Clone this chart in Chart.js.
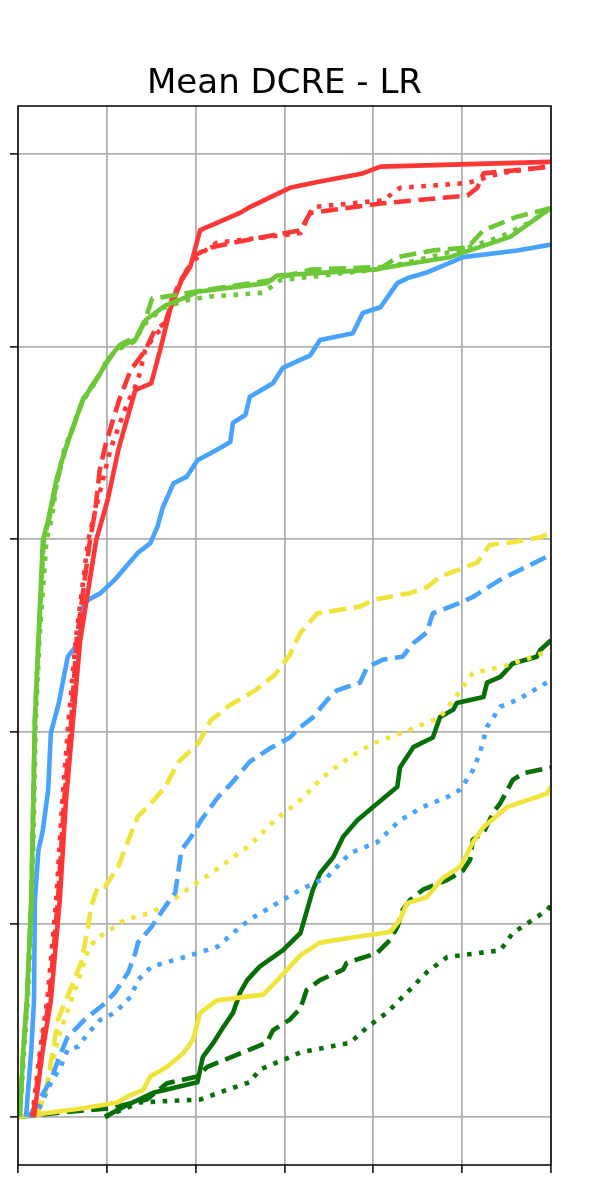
<!DOCTYPE html>
<html>
<head>
<meta charset="utf-8">
<script src="https://cdn.jsdelivr.net/npm/chart.js@4.4.1/dist/chart.umd.min.js"></script>
<style>
  body { margin: 0; background: #fff; }
  canvas { display: block; }
</style>
</head>
<body>
<canvas id="myChart" width="598" height="1181"></canvas>
<script>
const chartTitle = 'Mean DCRE - LR';
const xTicks = [0, 1, 2, 3, 4, 5, 6];
const yTicks = [0, 0.2, 0.4, 0.6, 0.8, 1.0];

// light green
const limeSolidX = [0.02,0.06,0.10,0.15,0.19,0.23,0.28,0.34,0.43,0.53,0.73,0.88,1.01,1.13,1.32,1.44,1.66,1.88,2.02,2.80,2.92,4.00,4.33,4.86,5.54,6.00];
const limeSolidY = [0,0.070,0.121,0.225,0.412,0.495,0.599,0.620,0.661,0.693,0.745,0.765,0.786,0.800,0.807,0.828,0.843,0.851,0.857,0.866,0.874,0.880,0.885,0.893,0.914,0.944];
const limeDashX = [0.02,0.06,0.10,0.15,0.19,0.23,0.29,0.36,0.45,0.54,0.74,0.90,1.04,1.15,1.34,1.44,1.51,1.66,2.05,2.84,3.29,4.11,4.27,4.67,5.06,5.24,5.62,6.00];
const limeDashY = [0,0.070,0.121,0.225,0.412,0.495,0.599,0.625,0.664,0.695,0.747,0.769,0.789,0.802,0.811,0.830,0.850,0.852,0.858,0.869,0.880,0.883,0.893,0.900,0.903,0.921,0.935,0.944];
const limeDotX = [0.02,0.07,0.11,0.16,0.20,0.24,0.32,0.38,0.44,0.52,0.72,0.87,0.99,1.10,1.30,1.45,1.63,1.88,2.16,2.76,2.95,4.02,4.41,5.03,5.43,5.76,6.00];
const limeDotY = [0,0.070,0.121,0.225,0.412,0.495,0.599,0.622,0.661,0.693,0.742,0.763,0.784,0.796,0.805,0.826,0.840,0.848,0.852,0.856,0.869,0.880,0.888,0.902,0.914,0.929,0.944];

// red
const redSolidX = [0.18,0.28,0.37,0.47,0.54,0.62,0.70,0.88,1.01,1.13,1.32,1.50,1.61,1.71,1.84,1.94,2.05,2.50,2.61,3.06,3.37,3.88,4.08,6.00];
const redSolidY = [0,0.070,0.121,0.225,0.329,0.412,0.495,0.599,0.641,0.693,0.755,0.762,0.800,0.838,0.869,0.883,0.921,0.939,0.945,0.965,0.971,0.980,0.987,0.992];
const redDashX = [0.17,0.26,0.35,0.45,0.52,0.60,0.66,0.81,0.87,0.92,0.99,1.14,1.27,1.43,1.54,1.66,1.73,1.85,1.99,2.17,2.42,3.18,3.29,4.11,5.06,5.17,5.24,6.00];
const redDashY = [0,0.070,0.121,0.225,0.329,0.412,0.495,0.599,0.630,0.672,0.700,0.745,0.776,0.796,0.817,0.825,0.848,0.871,0.895,0.903,0.908,0.921,0.939,0.949,0.957,0.965,0.980,0.987];
const redDotX = [0.16,0.25,0.33,0.43,0.50,0.57,0.65,0.79,0.90,1.04,1.20,1.35,1.43,1.54,1.66,1.73,1.82,1.96,2.11,2.24,3.18,3.32,4.11,4.30,5.06,5.24,5.43,6.00];
const redDotY = [0,0.070,0.121,0.225,0.329,0.412,0.495,0.599,0.641,0.693,0.734,0.765,0.796,0.812,0.822,0.848,0.867,0.888,0.900,0.908,0.918,0.945,0.952,0.965,0.970,0.975,0.980,0.988];

// blue
const blueSolidX = [0.09,0.15,0.18,0.19,0.23,0.28,0.34,0.37,0.46,0.56,0.68,0.73,0.79,0.93,1.09,1.21,1.35,1.49,1.57,1.63,1.75,1.90,2.02,2.24,2.39,2.42,2.56,2.61,2.87,2.98,3.29,3.40,3.77,3.88,4.08,4.27,4.38,4.60,5.01,5.62,6.00];
const blueSolidY = [0,0.070,0.121,0.225,0.277,0.298,0.340,0.399,0.430,0.478,0.492,0.530,0.537,0.544,0.558,0.571,0.586,0.596,0.613,0.633,0.658,0.665,0.682,0.693,0.701,0.721,0.729,0.748,0.762,0.778,0.791,0.807,0.814,0.835,0.841,0.866,0.871,0.877,0.893,0.900,0.906];
const blueDashX = [0.11,0.15,0.37,0.48,0.56,0.75,0.98,1.09,1.24,1.32,1.35,1.50,1.61,1.77,1.84,1.95,2.06,2.25,2.39,2.61,2.84,3.06,3.18,3.32,3.48,3.59,3.85,3.93,4.11,4.33,4.45,4.60,4.67,4.98,5.12,5.43,5.65,6.00];
const blueDashY = [0,0.004,0.038,0.066,0.083,0.101,0.118,0.129,0.150,0.170,0.181,0.197,0.212,0.233,0.277,0.291,0.308,0.332,0.345,0.369,0.383,0.394,0.405,0.415,0.433,0.443,0.451,0.467,0.475,0.478,0.492,0.503,0.523,0.534,0.540,0.558,0.568,0.584];
const blueDotX = [0.14,0.23,0.37,0.48,0.56,0.68,0.79,0.93,1.09,1.27,1.35,1.50,1.88,2.25,2.42,2.61,2.92,3.18,3.48,3.74,4.04,4.30,4.56,4.83,4.98,5.12,5.20,5.28,5.43,5.62,5.88,6.00];
const blueDotY = [0,0.007,0.035,0.052,0.070,0.073,0.087,0.101,0.108,0.125,0.142,0.156,0.166,0.177,0.191,0.205,0.222,0.236,0.249,0.274,0.285,0.308,0.322,0.332,0.340,0.360,0.378,0.405,0.426,0.433,0.447,0.454];

// yellow
const yellowSolidX = [0,0.73,1.12,1.23,1.41,1.49,1.68,1.86,1.97,2.05,2.24,2.76,2.92,3.18,3.40,3.74,4.19,4.30,4.38,4.60,4.78,4.98,5.12,5.24,5.43,5.51,5.96,6.00];
const yellowSolidY = [0,0.009,0.015,0.021,0.028,0.042,0.052,0.066,0.080,0.108,0.121,0.127,0.142,0.168,0.181,0.186,0.192,0.205,0.222,0.228,0.248,0.260,0.285,0.301,0.316,0.322,0.336,0.343];
const yellowDashX = [0.21,0.33,0.45,0.71,0.79,0.82,0.90,0.98,1.13,1.21,1.35,1.50,1.66,1.80,2.03,2.17,2.39,2.67,2.89,3.06,3.18,3.37,3.85,4.00,4.41,4.60,4.75,5.01,5.17,5.31,5.57,5.88,6.00];
const yellowDashY = [0,0.035,0.101,0.160,0.197,0.218,0.239,0.239,0.260,0.280,0.312,0.326,0.343,0.368,0.388,0.412,0.428,0.443,0.459,0.480,0.503,0.523,0.530,0.537,0.544,0.550,0.561,0.570,0.576,0.594,0.597,0.602,0.607];
const yellowDotX = [0.20,0.30,0.37,0.48,0.60,0.71,0.79,0.87,0.98,1.21,1.50,1.69,1.95,2.22,2.61,2.89,3.18,3.43,3.74,4.00,4.41,4.75,4.98,5.12,5.43,5.80,6.00];
const yellowDotY = [0,0.021,0.049,0.090,0.121,0.150,0.173,0.184,0.191,0.205,0.212,0.222,0.239,0.256,0.282,0.308,0.329,0.353,0.374,0.388,0.402,0.415,0.443,0.461,0.467,0.478,0.485];

// dark green
const dgSolidX = [0.98,1.18,1.52,2.02,2.08,2.20,2.31,2.42,2.50,2.58,2.72,2.98,3.18,3.32,3.40,3.55,3.66,3.82,3.96,4.27,4.30,4.45,4.67,4.75,4.90,4.94,5.24,5.28,5.43,5.57,5.84,5.88,6.00];
const dgSolidY = [0,0.010,0.025,0.036,0.062,0.077,0.093,0.108,0.129,0.142,0.156,0.173,0.191,0.236,0.253,0.270,0.291,0.308,0.319,0.343,0.363,0.384,0.394,0.415,0.423,0.430,0.436,0.451,0.457,0.471,0.478,0.485,0.495];
const dgDashX = [0,0.55,1.04,1.45,1.68,2.02,2.13,2.80,2.87,3.06,3.18,3.25,3.40,3.66,3.70,4.04,4.19,4.27,4.33,4.41,4.56,4.83,5.01,5.09,5.12,5.24,5.35,5.43,5.57,5.69,6.00];
const dgDashY = [0,0.005,0.009,0.018,0.035,0.042,0.052,0.077,0.090,0.101,0.113,0.132,0.142,0.153,0.160,0.170,0.184,0.197,0.215,0.225,0.236,0.246,0.256,0.267,0.288,0.295,0.316,0.326,0.350,0.357,0.363];
const dgDotX = [0.98,1.37,2.05,2.35,2.61,2.72,3.06,3.18,3.74,3.93,4.15,4.41,4.60,4.83,5.17,5.43,5.57,5.80,5.96,6.00];
const dgDotY = [0,0.015,0.018,0.028,0.036,0.049,0.062,0.067,0.077,0.093,0.108,0.132,0.150,0.166,0.170,0.173,0.191,0.205,0.215,0.220];

const LIME = '#6cc836', RED = '#ff3636', BLUE = '#47a3ff', YELLOW = '#f0e43a', DGREEN = '#066f06';
const SOLID = [], DASH = [17, 7.5], DOT = [4.6, 7.5];

const pts = (xs, ys) => xs.map((x, i) => ({x: x, y: ys[i]}));
const line = (xs, ys, color, dash) => ({
    data: pts(xs, ys),
    borderColor: color,
    backgroundColor: color,
    borderWidth: 4.6,
    borderDash: dash,
    borderCapStyle: 'butt',
    borderJoinStyle: 'round',
    pointRadius: 0,
    tension: 0,
    fill: false
});

const datasets = [
    line(limeSolidX, limeSolidY, LIME, SOLID),
    line(limeDashX, limeDashY, LIME, DASH),
    line(limeDotX, limeDotY, LIME, DOT),
    line(redSolidX, redSolidY, RED, SOLID),
    line(redDashX, redDashY, RED, DASH),
    line(redDotX, redDotY, RED, DOT),
    line(blueSolidX, blueSolidY, BLUE, SOLID),
    line(blueDashX, blueDashY, BLUE, DASH),
    line(blueDotX, blueDotY, BLUE, DOT),
    line(yellowSolidX, yellowSolidY, YELLOW, SOLID),
    line(yellowDashX, yellowDashY, YELLOW, DASH),
    line(yellowDotX, yellowDotY, YELLOW, DOT),
    line(dgSolidX, dgSolidY, DGREEN, SOLID),
    line(dgDashX, dgDashY, DGREEN, DASH),
    line(dgDotX, dgDotY, DGREEN, DOT)
];

// frame round the plot + title centred on plot area
const frameTitle = {
    id: 'frameTitle',
    afterDraw(chart) {
        const {ctx, chartArea: a} = chart;
        ctx.save();
        ctx.strokeStyle = '#000';
        ctx.lineWidth = 1.5;
        ctx.strokeRect(a.left, a.top, a.right - a.left, a.bottom - a.top);
        ctx.fillStyle = '#000';
        ctx.font = '34px "DejaVu Sans"';
        ctx.textAlign = 'center';
        ctx.textBaseline = 'alphabetic';
        ctx.fillText(chartTitle, (a.left + a.right) / 2, a.top - 13);
        ctx.restore();
    }
};

const gridOpts = {
    color: '#b0b0b0',
    lineWidth: 1.8,
    tickLength: 8,
    tickColor: '#000',
    tickWidth: 1.5
};

new Chart(document.getElementById('myChart').getContext('2d'), {
    type: 'line',
    data: {datasets: datasets},
    options: {
        responsive: false,
        animation: false,
        devicePixelRatio: 1,
        layout: {padding: {left: 10, right: 47, top: 106, bottom: 8}},
        plugins: {legend: {display: false}, tooltip: {enabled: false}, title: {display: false}},
        scales: {
            x: {
                type: 'linear',
                min: 0,
                max: 6,
                afterBuildTicks: axis => { axis.ticks = xTicks.map(v => ({value: v})); },
                ticks: {display: false},
                grid: gridOpts,
                border: {display: false}
            },
            y: {
                type: 'linear',
                min: -0.05,
                max: 1.05,
                afterBuildTicks: axis => { axis.ticks = yTicks.map(v => ({value: v})); },
                ticks: {display: false},
                grid: gridOpts,
                border: {display: false}
            }
        }
    },
    plugins: [frameTitle]
});
</script>
</body>
</html>
